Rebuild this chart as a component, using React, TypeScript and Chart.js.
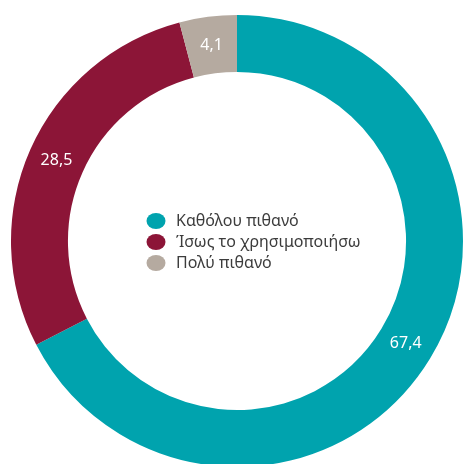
import React, { useEffect, useRef } from "react";
import { Chart, registerables } from "chart.js";

Chart.register(...registerables);

const categories = ["Καθόλου πιθανό", "Ίσως το χρησιμοποιήσω", "Πολύ πιθανό"];
const values = [67.4, 28.5, 4.1];
const valueLabels = ["67,4", "28,5", "4,1"];
const colors = ["#00A3AE", "#8C1537", "#B5AAA0"];

const FONT = "'Noto Sans', 'DejaVu Sans', sans-serif";

const labelsPlugin = {
  id: "ringLabels",
  afterDatasetsDraw(chart: any) {
    const ctx = chart.ctx;
    const meta = chart.getDatasetMeta(0);
    ctx.save();
    ctx.fillStyle = "#ffffff";
    ctx.font = `16px ${FONT}`;
    ctx.textAlign = "center";
    ctx.textBaseline = "middle";
    meta.data.forEach((arc: any, i: number) => {
      const p = arc.tooltipPosition();
      ctx.fillText(valueLabels[i], p.x, p.y);
    });
    ctx.restore();
  },
};

const centerLegend = {
  id: "centerLegend",
  afterDraw(chart: any) {
    const ctx = chart.ctx;
    const meta = chart.getDatasetMeta(0);
    const arc = meta.data[0];
    if (!arc) return;
    const cx = arc.x;
    const cy = arc.y;
    const rowH = 21;
    const startY = cy - rowH + 1;
    const dotX = cx - 81;
    const textX = cx - 61;
    ctx.save();
    ctx.font = `16px ${FONT}`;
    ctx.textBaseline = "middle";
    ctx.textAlign = "left";
    categories.forEach((c, i) => {
      const y = startY + i * rowH;
      ctx.fillStyle = colors[i];
      ctx.beginPath();
      ctx.ellipse(dotX, y, 9.5, 8, 0, 0, Math.PI * 2);
      ctx.fill();
      ctx.fillStyle = "#3c3c3c";
      ctx.fillText(c, textX, y);
    });
    ctx.restore();
  },
};

export default function App() {
  const ref = useRef<HTMLCanvasElement | null>(null);
  useEffect(() => {
    if (!ref.current) return;
    const chart = new Chart(ref.current, {
      type: "doughnut",
      data: {
        labels: categories,
        datasets: [
          {
            data: values,
            backgroundColor: colors,
            borderWidth: 0,
            hoverOffset: 0,
          },
        ],
      },
      options: {
        animation: false,
        responsive: true,
        maintainAspectRatio: false,
        cutout: "74.8%",
        layout: { padding: 0 },
        plugins: {
          legend: { display: false },
          tooltip: { enabled: false },
        },
        events: [],
      },
      plugins: [labelsPlugin, centerLegend],
    });
    return () => chart.destroy();
  }, []);

  return (
    <div
      style={{
        position: "fixed",
        left: 0,
        top: 0,
        width: 463,
        height: 464,
        overflow: "hidden",
        background: "#ffffff",
      }}
    >
      <div style={{ position: "absolute", left: 11, top: 15, width: 452, height: 452 }}>
        <canvas ref={ref} />
      </div>
    </div>
  );
}
